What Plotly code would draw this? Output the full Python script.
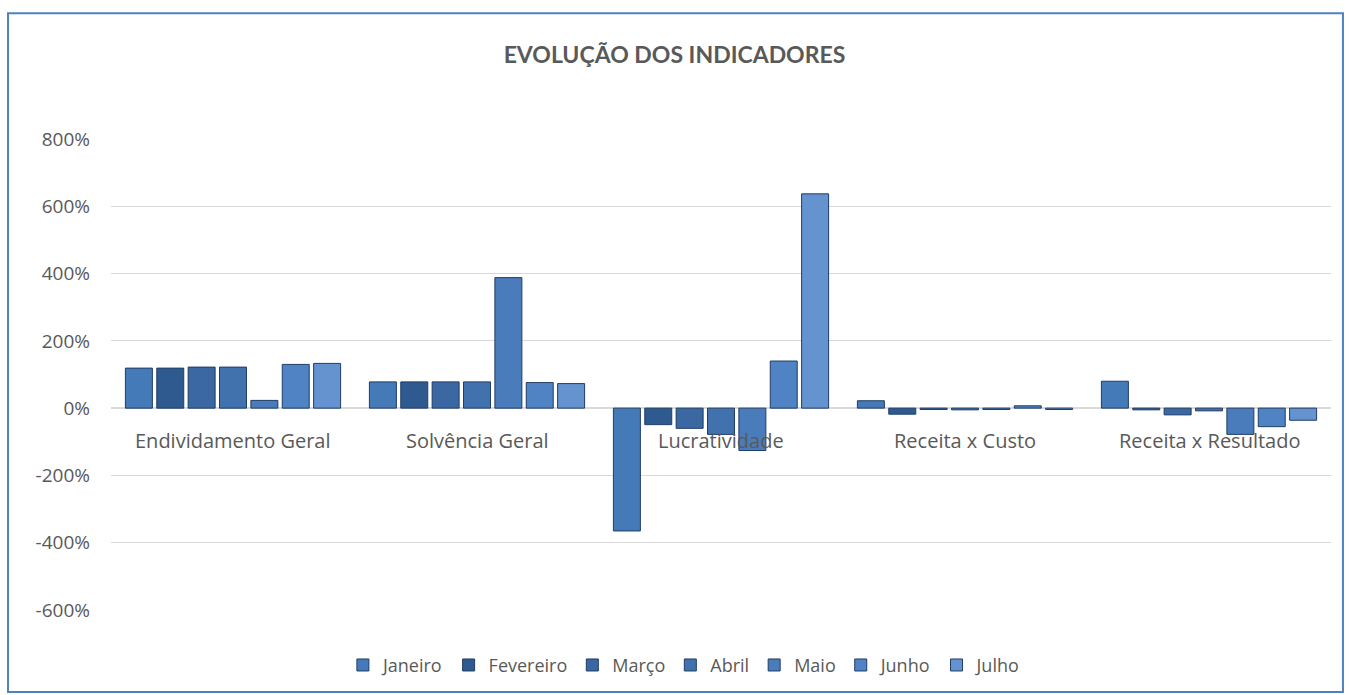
import plotly.graph_objects as go

# Indicadores (categorias) e meses (séries)
categorias = ["Endividamento Geral", "Solvência Geral", "Lucratividade",
              "Receita x Custo", "Receita x Resultado"]
meses = ["Janeiro", "Fevereiro", "Março", "Abril", "Maio", "Junho", "Julho"]

# valores em %
janeiro = [119, 78, -365, 22, 80]
fevereiro = [119, 78, -49, -18, -5]
marco = [122, 78, -60, -4, -20]
abril = [122, 78, -78, -5, -8]
maio = [23, 388, -126, -4, -78]
junho = [130, 76, 140, 7, -55]
julho = [133, 73, 637, -4, -36]

# eixo Y
ticks_y = [-600, -400, -200, 0, 200, 400, 600, 800]
ticks_txt = ["-600%", "-400%", "-200%", "0%", "200%", "400%", "600%", "800%"]

series = [janeiro, fevereiro, marco, abril, maio, junho, julho]
cores = ["#447ab8", "#2f5a8f", "#3b68a3", "#4272ae", "#4a7cbc", "#4f83c4", "#6593cf"]

fig = go.Figure()
for mes, vals, cor in zip(meses, series, cores):
    fig.add_trace(go.Bar(
        name=mes, x=categorias, y=vals,
        marker=dict(color=cor, line=dict(color="#1f3d66", width=1)),
    ))

# rótulos das categorias junto à linha do zero (como no Excel)
for c in categorias:
    fig.add_annotation(x=c, y=0, text=c, showarrow=False, yshift=-32,
                       font=dict(family="Open Sans", size=20, color="#595959"))

# borda do gráfico (plot area: x 111..1331, y 139..611)
fig.add_shape(type="rect", xref="paper", yref="paper",
              x0=-0.0844, x1=1.0098, y0=-0.174, y1=1.267,
              line=dict(color="#4f81bd", width=2))

fig.update_layout(
    width=1349, height=695,
    paper_bgcolor="white", plot_bgcolor="white",
    font=dict(family="Open Sans, sans-serif", color="#595959"),
    title=dict(text="<b>EVOLUÇÃO DOS INDICADORES</b>", x=0.5, xanchor="center",
               y=0.921, yanchor="middle",
               font=dict(family="Lato", size=23, color="#595959")),
    margin=dict(l=111, r=18, t=139, b=84),
    barmode="group", bargap=0.1, bargroupgap=0.14,
    showlegend=True,
    legend=dict(orientation="h", x=0.47, xanchor="center", y=-0.115, yanchor="middle",
                font=dict(size=18, color="#595959"), itemwidth=30,
                traceorder="normal"),
    xaxis=dict(showticklabels=False, showgrid=False, zeroline=False, showline=False),
    yaxis=dict(range=[-600, 800], tickvals=ticks_y, ticktext=ticks_txt, showgrid=True,
               gridcolor="#d9d9d9", gridwidth=1, zeroline=True, zerolinecolor="#d9d9d9",
               zerolinewidth=2, tickfont=dict(size=19, color="#595959"), showline=False,
               ticks="", ticklabelstandoff=20),
)

fig.write_html("out.html", config={"displayModeBar": False},
               post_script="document.body.style.margin='0px';")
